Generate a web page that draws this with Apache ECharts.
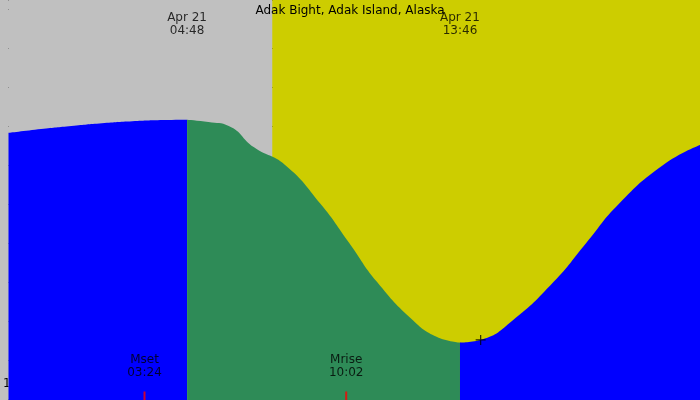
<!DOCTYPE html>
<html>
<head>
	<meta charset="utf-8" />
	<title>Adak Bight tide</title>
	<script src="https://cdn.jsdelivr.net/npm/echarts@6/dist/echarts.min.js"></script>
	<style>
		html, body {margin:0;padding:0;}
		#chart {width:700px;height:400px;}
	</style>
</head>
<body>
	<div id="chart"></div>
	<script>
		// hours from midnight Apr 21, height in ft
		var riseBefore = [[-1.07, 3.82], [0, 3.92], [1, 4.0], [2, 4.07], [3, 4.12], [4, 4.15], [4.8, 4.16]];
		var falling = [[4.8, 4.16], [5.5, 4.1], [6.17, 4.0], [7, 3.45], [8.02, 3.0], [9.19, 2.0], [10.13, 1.0], [11.04, 0], [12.24, -1], [13, -1.41], [13.77, -1.56]];
		var riseAfter = [[13.77, -1.56], [14.5, -1.48], [15.49, -1], [16.85, 0], [17.92, 1], [18.99, 2], [20.45, 3], [21.66, 3.51]];
		var hourTicks = [-1,0,1,2,3,4,5,6,7,8,9,10,11,12,13,14,15,16,17,18,19,20,21];
		var ftTicks = [-1, 0, 1, 2, 3, 4, 5, 6];
		var xMin = -1.07, xMax = 21.66, yMin = -3.03, yMax = 7.23;
		var sunrise = 7.6;
		var tideLabels = [{t: 4.8, text: 'Apr 21\n04:48'}, {t: 13.77, text: 'Apr 21\n13:46'}];
		var moonLabels = [{t: 3.4, text: 'Mset\n03:24'}, {t: 10.03, text: 'Mrise\n10:02'}];

		var chart = echarts.init(document.getElementById('chart'));
		var font = 'DejaVu Sans';

		function hourName(h) {
			var v = ((h % 12) + 12) % 12;
			if (v == 0) v = 12;
			return (v < 10 ? '0' : '') + v;
		}

		function area(data, color) {
			return {
				type: 'line', data: data, smooth: true, symbol: 'none', z: 3,
				lineStyle: {width: 0}, areaStyle: {color: color, opacity: 1, origin: 'start'}
			};
		}

		var s1 = area(riseBefore, '#0000ff');
		s1.markArea = {
			silent: true,
			data: [
				[{xAxis: xMin, itemStyle: {color: '#c0c0c0', opacity: 1}}, {xAxis: sunrise}],
				[{xAxis: sunrise, itemStyle: {color: '#cdcd00', opacity: 1}}, {xAxis: xMax}]
			]
		};
		var s2 = area(falling, '#2e8b57');
		var s3 = area(riseAfter, '#0000ff');

		var texts = {
			type: 'scatter', symbolSize: 0, z: 10, silent: true,
			data: tideLabels.map(e => ({value: [e.t, 6.6], name: e.text}))
				.concat(moonLabels.map(e => ({value: [e.t, -2.18], name: e.text}))),
			label: {show: true, formatter: '{b}', color: '#000', fontFamily: font, fontSize: 12, lineHeight: 13, position: 'inside'}
		};
		var moonTicks = {
			type: 'scatter', symbol: 'rect', symbolSize: [2, 9], symbolOffset: [0, -4], z: 10, silent: true,
			itemStyle: {color: '#ff0000'},
			data: moonLabels.map(e => [e.t, yMin])
		};
		var plus = {
			type: 'scatter', symbol: 'path://M0,5H10M5,0V10', symbolSize: 10, z: 10, silent: true,
			itemStyle: {color: 'none', borderColor: '#000', borderWidth: 1.2},
			data: [[14.45, -1.49]]
		};

		chart.setOption({
			animation: false,
			backgroundColor: '#c0c0c0',
			textStyle: {fontFamily: font},
			title: {
				text: 'Adak Bight, Adak Island, Alaska', left: 'center', top: 0,
				textStyle: {fontSize: 12, fontWeight: 'normal', color: '#000', fontFamily: font}
			},
			grid: {left: 0, right: 0, top: 0, bottom: 0},
			xAxis: {
				type: 'value', min: xMin, max: xMax,
				axisLine: {show: false},
				splitLine: {show: false},
				axisTick: {show: true, inside: true, length: 8, customValues: hourTicks, lineStyle: {color: '#000'}},
				axisLabel: {inside: true, margin: 10, customValues: hourTicks, formatter: hourName, color: '#000', fontSize: 12, fontFamily: font}
			},
			yAxis: {
				type: 'value', min: yMin, max: yMax,
				axisLine: {show: false}, axisTick: {show: false},
				axisLabel: {inside: true, margin: 6, customValues: ftTicks, formatter: '{value} ft', color: '#000', fontSize: 12, fontFamily: font, verticalAlign: 'middle'},
				splitLine: {show: true, lineStyle: {color: '#000', width: 1}},
				splitNumber: 10
			},
			series: [s1, s2, s3, texts, moonTicks, plus]
		});
	</script>
</body>
</html>
